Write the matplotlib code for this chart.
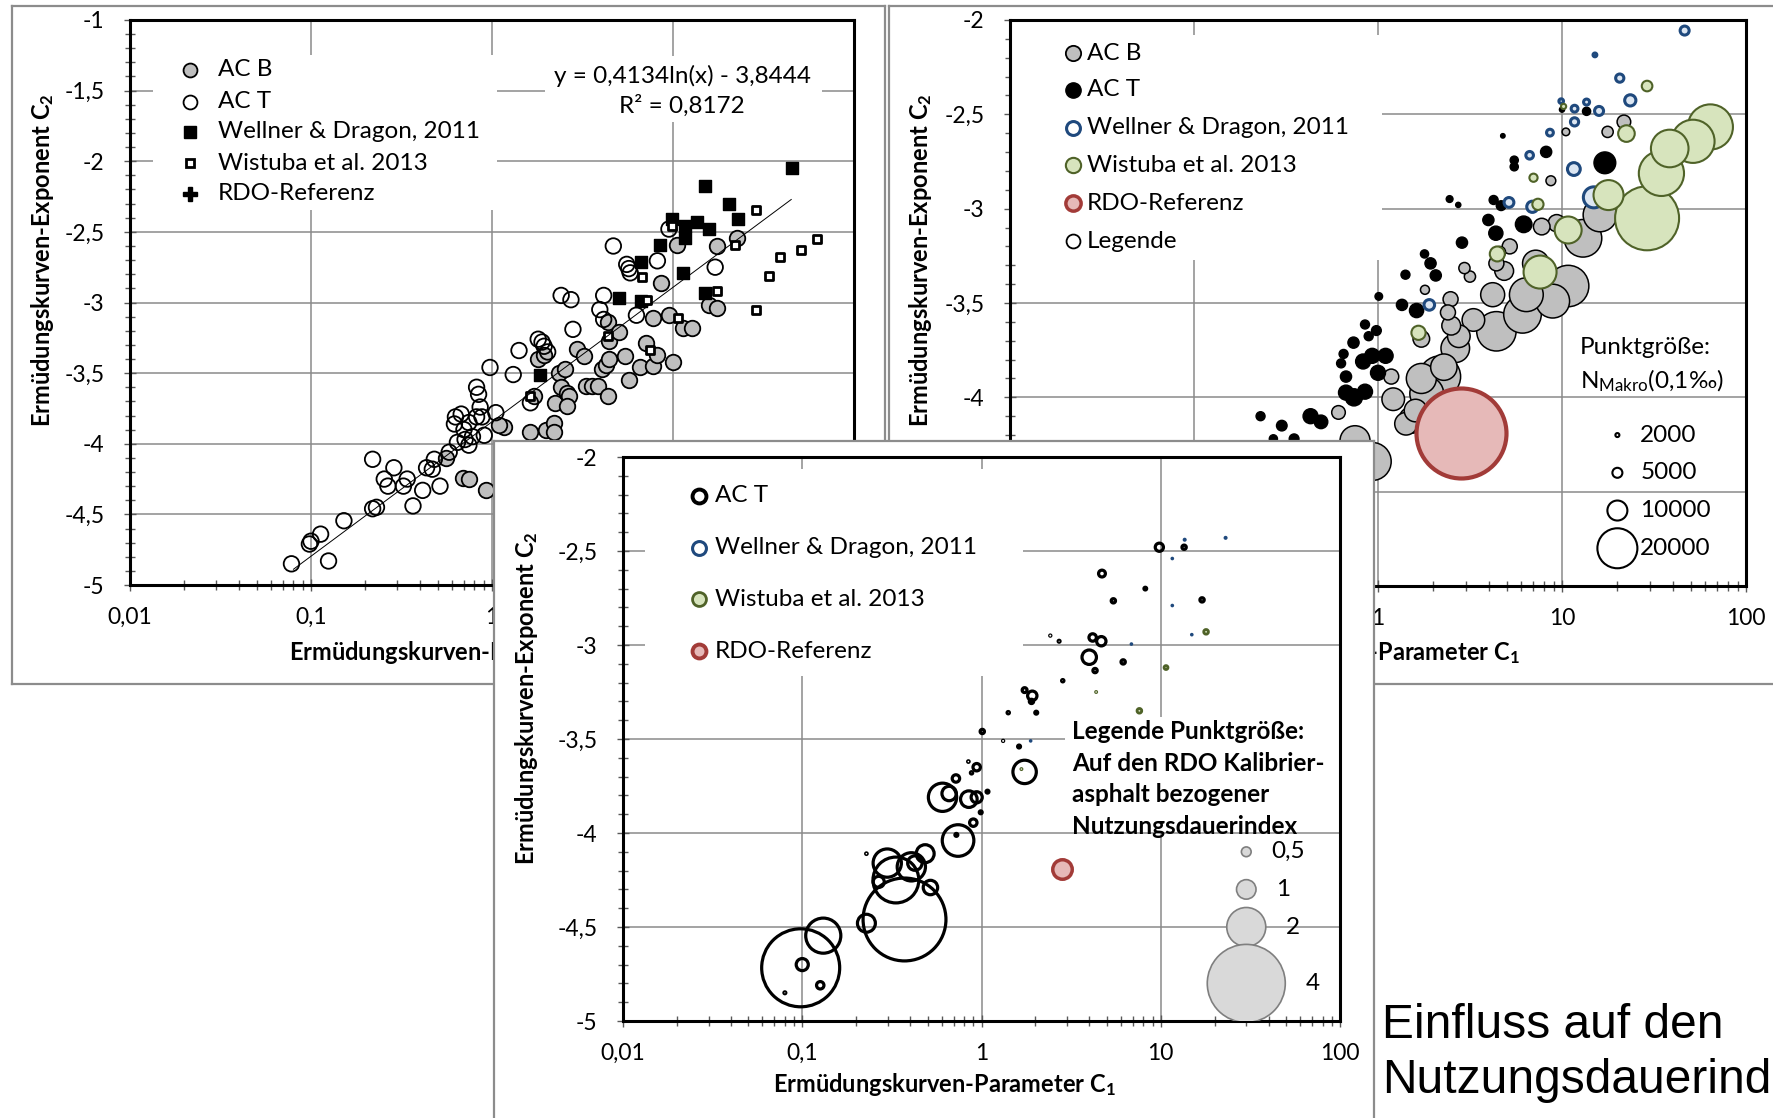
import numpy as np
import matplotlib.pyplot as plt
from matplotlib.lines import Line2D
from matplotlib.patches import Rectangle
from matplotlib.ticker import MultipleLocator, LogLocator, NullFormatter

plt.rcParams['font.family'] = ['Lato', 'DejaVu Sans']
plt.rcParams['mathtext.default'] = 'regular'

W, H = 1773, 1118
FS = 17.5      # Legenden- und Beschriftungstexte
FS_TICK = 16.5

# ---------------- Diagramm 1: alle Datensätze, Regression ----------------
p1_acb_x = [0.555, 0.69, 0.745, 0.93, 1.16, 1.63, 1.71, 1.8, 1.94, 1.98, 2.19, 2.24, 2.36, 2.54,
            2.41, 2.6, 2.66, 2.6, 2.94, 3.24, 3.3, 3.57, 3.84, 4.35, 4.05, 4.24, 4.45, 4.35, 4.45,
            5.04, 5.4, 5.7, 6.6, 7.1, 7.8, 8.2, 10.0, 7.8, 9.5, 11.3, 12.8, 8.6, 10.5, 17.6, 22.5,
            15.9, 17.6, 2.19, 1.1]
p1_acb_y = [-4.10, -4.24, -4.25, -4.33, -3.88, -3.92, -3.66, -3.40, -3.37, -3.90, -3.85, -3.71,
            -3.50, -3.47, -3.60, -3.64, -3.66, -3.73, -3.33, -3.38, -3.59, -3.59, -3.59, -3.66,
            -3.47, -3.44, -3.40, -3.14, -3.27, -3.21, -3.38, -3.55, -3.46, -3.29, -3.45, -3.37,
            -3.42, -3.11, -3.09, -3.18, -3.18, -2.86, -2.59, -2.60, -2.54, -3.02, -3.04, -3.92,
            -3.87]

p1_act_x = [0.078, 0.098, 0.10, 0.113, 0.125, 0.152, 0.219, 0.23, 0.366, 0.219, 0.287, 0.254,
            0.266, 0.324, 0.34, 0.414, 0.516, 0.435, 0.48, 0.468, 0.644, 0.71, 0.745, 0.628,
            0.676, 0.822, 0.88, 0.906, 0.745, 0.822, 0.843, 0.975, 1.05, 1.31, 1.41, 1.8, 1.89,
            1.94, 2.03, 1.63, 2.8, 2.41, 2.73, 4.14, 3.94, 4.68, 5.55, 5.7, 5.8, 8.2, 9.5, 6.28,
            17.1, 4.14, 0.7, 0.78, 0.62, 0.86, 0.58]
p1_act_y = [-4.85, -4.71, -4.69, -4.64, -4.83, -4.545, -4.46, -4.45, -4.44, -4.11, -4.17, -4.25,
            -4.30, -4.30, -4.25, -4.33, -4.30, -4.17, -4.11, -4.18, -3.99, -3.97, -4.01, -3.81,
            -3.79, -3.81, -3.81, -3.94, -3.85, -3.60, -3.65, -3.46, -3.78, -3.51, -3.34, -3.26,
            -3.28, -3.31, -3.35, -3.71, -3.19, -2.95, -2.98, -2.95, -3.05, -2.60, -2.73, -2.76,
            -2.79, -2.705, -2.48, -3.09, -2.75, -3.12, -3.90, -3.95, -3.86, -3.74, -4.06]

p1_wd_x = [45.7, 15.0, 20.3, 23.0, 9.9, 11.6, 13.6, 15.9, 11.6, 8.5, 6.66, 11.3, 5.04, 15.0, 6.66, 1.85]
p1_wd_y = [-2.045, -2.175, -2.30, -2.41, -2.41, -2.46, -2.43, -2.48, -2.54, -2.59, -2.71, -2.79,
           -2.965, -2.93, -2.99, -3.51]

p1_wi_x = [28.7, 62.8, 51.1, 39.0, 34.0, 28.7, 17.6, 21.9, 9.9, 6.7, 7.2, 10.7, 4.35, 7.45, 1.63]
p1_wi_y = [-2.345, -2.55, -2.63, -2.675, -2.81, -3.05, -2.92, -2.59, -2.46, -2.82, -2.98, -3.11,
           -3.24, -3.335, -3.66]

p1_rdo_x = [2.82]
p1_rdo_y = [-4.19]

trend_a, trend_b, trend_r2 = 0.4134, -3.8444, 0.8172
trend_range = [0.08, 45.0]

# ---------------- Diagramm 2: Punktgröße N_Makro(0,1‰) ----------------
p2_acb_x = [21.7, 17.7, 10.5, 8.7, 16.1, 7.76, 9.36, 13.0, 5.2, 4.6, 2.95, 3.16, 1.8, 4.4, 4.85,
            4.2, 6.4, 7.2, 10.8, 8.9, 6.1, 4.4, 3.3, 2.48, 2.4, 2.5, 2.75, 2.63, 2.28, 2.17, 1.72,
            1.84, 1.6, 1.53, 1.42, 1.21, 1.18, 0.61, 0.75, 0.93, 1.72]
p2_acb_y = [-2.54, -2.593, -2.593, -2.852, -3.033, -3.095, -3.077, -3.157, -3.2, -3.23, -3.315,
            -3.36, -3.43, -3.29, -3.33, -3.456, -3.456, -3.29, -3.41, -3.49, -3.56, -3.65, -3.59,
            -3.48, -3.55, -3.62, -3.676, -3.74, -3.84, -3.89, -3.9, -3.98, -4.07, -4.12, -4.14,
            -4.01, -3.89, -4.08, -4.23, -4.34, -3.69]
p2_acb_n = [6800, 5600, 3800, 4900, 16900, 8300, 8600, 18800, 7500, 5600, 5600, 5600, 4500, 7500,
            9400, 12000, 16900, 13200, 20700, 16900, 18800, 19700, 11300, 7500, 7500, 9400, 11300,
            14300, 13200, 20700, 15000, 16900, 11300, 13200, 11300, 11300, 7500, 6800, 15000,
            19000, 8300]

p2_act_x = [4.77, 5.5, 5.5, 8.2, 17.1, 13.6, 10.0, 2.45, 2.73, 4.25, 4.67, 3.98, 6.19, 4.37, 2.86,
            1.79, 1.93, 2.06, 1.41, 1.01, 1.35, 1.62, 0.85, 0.98, 0.89, 0.736, 0.65, 0.63, 0.83,
            0.93, 1.1, 1.0, 0.67, 0.67, 0.74, 0.85, 0.43, 0.49, 0.3, 0.23, 0.35, 0.27, 0.18, 0.14,
            0.11, 0.09]
p2_act_y = [-2.614, -2.743, -2.778, -2.699, -2.757, -2.484, -2.475, -2.949, -2.98, -2.954, -2.984,
            -3.06, -3.083, -3.13, -3.18, -3.24, -3.29, -3.354, -3.35, -3.465, -3.51, -3.54, -3.614,
            -3.646, -3.676, -3.71, -3.77, -3.82, -3.81, -3.78, -3.78, -3.87, -3.89, -3.975, -4.0,
            -3.97, -4.1, -4.13, -4.15, -4.1, -4.22, -4.22, -4.4, -4.5, -4.65, -4.8]
p2_act_n = [2250, 4100, 4100, 5600, 10900, 4100, 2600, 3400, 2600, 4500, 4900, 5600, 8300, 7100,
            5600, 4100, 5600, 5600, 4500, 3800, 5600, 7100, 4500, 4900, 4500, 5600, 4500, 4500,
            7500, 7500, 7500, 7500, 5600, 7500, 8600, 7500, 7500, 6800, 5300, 4500, 4900, 4100,
            5000, 5000, 4500, 4000]

p2_wd_x = [46.4, 15.1, 20.6, 23.5, 13.6, 11.7, 15.9, 9.9, 11.7, 8.6, 6.67, 11.6, 14.9, 6.9, 5.15, 1.9]
p2_wd_y = [-2.056, -2.185, -2.308, -2.426, -2.435, -2.47, -2.482, -2.43, -2.54, -2.597, -2.717,
           -2.79, -2.94, -2.99, -2.967, -3.51]
p2_wd_n = [4500, 1900, 4100, 5600, 3000, 3400, 4500, 2300, 4100, 3400, 3800, 6400, 10500, 5600,
           4900, 5300]

p2_wi_x = [29.0, 10.2, 22.4, 7.0, 7.4, 64.0, 51.5, 38.5, 34.7, 29.0, 17.9, 10.8, 7.6, 4.45, 1.66]
p2_wi_y = [-2.35, -2.458, -2.602, -2.836, -2.977, -2.567, -2.643, -2.681, -2.813, -3.051, -2.928,
           -3.113, -3.336, -3.24, -3.658]
p2_wi_n = [5300, 2600, 8300, 4100, 5600, 22600, 21600, 18800, 22600, 32000, 15000, 13500, 16500,
           7500, 7100]

p2_rdo_x = [2.82]
p2_rdo_y = [-4.187]
p2_rdo_n = [45000]

p2_key_x = [20, 20, 20, 20]
p2_key_y = [-4.2, -4.4, -4.6, -4.8]
p2_key_n = [2000, 5000, 10000, 20000]

# ---------------- Diagramm 3: Nutzungsdauerindex ----------------
p3_act_x = [0.098, 0.131, 0.372, 0.333, 0.298, 0.406, 0.485, 0.519, 0.425, 0.267, 0.228, 0.1,
            0.126, 0.08, 0.228, 0.74, 0.724, 0.9, 0.606, 0.66, 0.85, 0.94, 1.08, 0.99, 0.72, 0.845,
            0.94, 0.88, 1.01, 1.32, 1.62, 1.74, 1.41, 1.74, 1.92, 1.9, 2.02, 2.84, 3.99, 4.3, 4.17,
            4.66, 6.17, 2.42, 2.71, 5.44, 4.7, 8.2, 9.82, 13.5, 17.0]
p3_act_y = [-4.717, -4.546, -4.46, -4.25, -4.16, -4.18, -4.11, -4.29, -4.16, -4.26, -4.48, -4.70,
            -4.81, -4.85, -4.11, -4.04, -4.01, -3.945, -3.81, -3.79, -3.82, -3.81, -3.78, -3.89,
            -3.71, -3.62, -3.65, -3.68, -3.46, -3.51, -3.54, -3.675, -3.36, -3.24, -3.27, -3.30,
            -3.36, -3.19, -3.065, -3.136, -2.96, -2.98, -3.09, -2.95, -2.98, -2.765, -2.62, -2.70,
            -2.48, -2.48, -2.76]
p3_act_i = [4.0, 1.8, 4.25, 2.35, 1.45, 1.45, 0.92, 0.74, 0.74, 0.57, 0.92, 0.62, 0.38, 0.1, 0.08,
            1.62, 0.15, 0.38, 1.45, 0.74, 0.85, 0.57, 0.15, 0.15, 0.38, 0.08, 0.38, 0.12, 0.22, 0.06,
            0.15, 1.2, 0.12, 0.25, 0.48, 0.22, 0.15, 0.12, 0.74, 0.22, 0.38, 0.48, 0.22, 0.06,
            0.1, 0.22, 0.35, 0.14, 0.42, 0.22, 0.22]

p3_wd_x = [13.6, 23.0, 11.6, 11.6, 14.9, 6.86, 1.88]
p3_wd_y = [-2.44, -2.43, -2.54, -2.79, -2.945, -2.995, -3.51]
p3_wd_i = [0.1, 0.1, 0.08, 0.08, 0.08, 0.08, 0.08]

p3_wi_x = [17.9, 10.7, 4.36, 7.6, 1.67]
p3_wi_y = [-2.93, -3.12, -3.25, -3.35, -3.66]
p3_wi_i = [0.24, 0.2, 0.06, 0.24, 0.06]

p3_rdo_x = [2.82]
p3_rdo_y = [-4.19]
p3_rdo_i = [1.0]

p3_key_x = [30, 30, 30, 30]
p3_key_y = [-4.1, -4.3, -4.5, -4.8]
p3_key_i = [0.5, 1, 2, 4]
p3_key_labels = ['0,5', '1', '2', '4']

x_ticks = [0.01, 0.1, 1, 10, 100]
x_tick_labels = ['0,01', '0,1', '1', '10', '100']

GREY = '#bfbfbf'
BLUE_E, BLUE_F = '#1f497d', '#dce6f2'
GREEN_E, GREEN_F = '#4f6228', '#d7e4bd'
RED_E, RED_F = '#a23b38', '#e6b9b8'
KEY_E, KEY_F = '#7f7f7f', '#d9d9d9'

fig = plt.figure(figsize=(W / 100, H / 100), dpi=100)


def fbox(x0, y0, x1, y1):
    return [x0 / W, 1 - y1 / H, (x1 - x0) / W, (y1 - y0) / H]


def fpt(x, y):
    return x / W, 1 - y / H


def panel(frame_px, plot_px, ymin, ymax, z):
    frame = fig.add_axes(fbox(*frame_px), zorder=z)
    frame.set_xticks([])
    frame.set_yticks([])
    for s in frame.spines.values():
        s.set_color('#8c8c8c')
        s.set_linewidth(1.6)
    ax = fig.add_axes(fbox(*plot_px), zorder=z + 0.1)
    ax.set_xscale('log')
    ax.set_xlim(0.01, 100)
    ax.set_ylim(ymin, ymax)
    ax.set_xticks(x_ticks, labels=x_tick_labels)
    yt = np.round(np.arange(ymin, ymax + 0.01, 0.5), 1)
    ax.set_yticks(yt, labels=[f'{v:g}'.replace('.', ',') for v in yt])
    ax.xaxis.set_minor_locator(LogLocator(base=10, subs=np.arange(2, 10), numticks=20))
    ax.xaxis.set_minor_formatter(NullFormatter())
    ax.yaxis.set_minor_locator(MultipleLocator(0.1))
    ax.grid(True, which='major', color='#8a8a8a', lw=1.1)
    ax.set_axisbelow(True)
    for s in ax.spines.values():
        s.set_color('black')
        s.set_linewidth(2.2)
    ax.tick_params(which='both', direction='inout', color='#595959', width=1)
    ax.tick_params(which='major', length=9)
    ax.tick_params(which='minor', length=7)
    ax.tick_params(axis='y', pad=14, labelsize=FS_TICK)
    ax.tick_params(axis='x', pad=11, labelsize=FS_TICK)
    return ax


def blank(ax, x0, y0, x1, y1):
    # weiße Fläche hinter Legenden/Texten, verdeckt das Gitter
    ax.add_patch(Rectangle(fpt(x0, y1), (x1 - x0) / W, (y1 - y0) / H, transform=fig.transFigure,
                           fc='white', ec='none', zorder=1))


def key(x, y, tx, text, z, **mk):
    fig.add_artist(Line2D([x / W], [1 - y / H], transform=fig.transFigure, ls='none',
                          zorder=z, **mk))
    fig.text(*fpt(tx, y), text, ha='left', va='center', fontsize=FS, zorder=z)


def labels(z, ylab_xy, xlab_xy):
    fig.text(*fpt(*ylab_xy), 'Ermüdungskurven-Exponent C$_2$', rotation=90, ha='center',
             va='center', fontsize=17, fontweight='bold', zorder=z)
    fig.text(*fpt(*xlab_xy), 'Ermüdungskurven-Parameter C$_1$', ha='center', va='center',
             fontsize=17, fontweight='bold', zorder=z)


def bubble_pt(values, px_per_unit):
    return (np.asarray(values) * px_per_unit * 0.72) ** 2


# ---- Diagramm 1 ----
ax1 = panel((12, 6, 885, 684), (130, 20, 854, 585), -5, -1, 1)
blank(ax1, 153, 55, 497, 210)
blank(ax1, 545, 56, 822, 122)
ax1.scatter(p1_acb_x, p1_acb_y, s=125, fc=GREY, ec='black', lw=1.3, zorder=3)
ax1.scatter(p1_act_x, p1_act_y, s=125, fc='none', ec='black', lw=1.3, zorder=3)
ax1.scatter(p1_wd_x, p1_wd_y, s=85, marker='s', fc='black', ec='black', lw=1, zorder=4)
ax1.scatter(p1_wi_x, p1_wi_y, s=30, marker='s', fc='white', ec='black', lw=2, zorder=4)
ax1.scatter(p1_rdo_x, p1_rdo_y, s=110, marker='P', fc='black', ec='black', zorder=4)
tx = np.geomspace(trend_range[0], trend_range[1], 100)
ax1.plot(tx, trend_a * np.log(tx) + trend_b, color='black', lw=0.7, zorder=5)
fig.text(*fpt(682, 76), f'y = {trend_a:.4f}ln(x) - {-trend_b:.4f}'.replace('.', ','),
         ha='center', va='center', fontsize=FS, zorder=1.5)
fig.text(*fpt(682, 106), f'R² = {trend_r2:.4f}'.replace('.', ','), ha='center', va='center',
         fontsize=FS, zorder=1.5)
key(190, 70, 218, 'AC B', 1.5, marker='o', ms=10, mfc=GREY, mec='black', mew=1.3)
key(190, 102, 218, 'AC T', 1.5, marker='o', ms=10, mfc='none', mec='black', mew=1.3)
key(190, 132, 218, 'Wellner & Dragon, 2011', 1.5, marker='s', ms=8, mfc='black', mec='black')
key(190, 163, 218, 'Wistuba et al. 2013', 1.5, marker='s', ms=5.5, mfc='white', mec='black', mew=2)
key(190, 194, 218, 'RDO-Referenz', 1.5, marker='P', ms=10, mfc='black', mec='black')
labels(1.5, (43, 260), (460, 652))

# ---- Diagramm 2 ----
ax2 = panel((889, 6, 1790, 684), (1010, 20, 1746, 586), -5, -2, 3)
blank(ax2, 1010, 35, 1382, 260)
k2 = 0.002
for xs, ys, ns, fc, ec, lw in [(p2_acb_x, p2_acb_y, p2_acb_n, GREY, 'black', 1.1),
                               (p2_act_x, p2_act_y, p2_act_n, 'black', 'black', 1.0),
                               (p2_wd_x, p2_wd_y, p2_wd_n, BLUE_F, BLUE_E, 2.2),
                               (p2_wi_x, p2_wi_y, p2_wi_n, GREEN_F, GREEN_E, 1.5),
                               (p2_rdo_x, p2_rdo_y, p2_rdo_n, RED_F, RED_E, 3.0)]:
    order = np.argsort(ns)[::-1]
    ax2.scatter(np.asarray(xs)[order], np.asarray(ys)[order], s=bubble_pt(np.asarray(ns)[order], k2),
                fc=fc, ec=ec, lw=lw, zorder=3)
ax2.scatter(p2_key_x, p2_key_y, s=bubble_pt(p2_key_n, k2), fc='white', ec='black', lw=1.5, zorder=3)
for x, y, n in zip(p2_key_x, p2_key_y, p2_key_n):
    ax2.annotate(f'{n}', (x, y), xytext=(16.5, 0), textcoords='offset points', ha='left',
                 va='center', fontsize=FS, zorder=4)
fig.text(*fpt(1580, 348), 'Punktgröße:', ha='left', va='center', fontsize=FS, zorder=3.5)
fig.text(*fpt(1580, 381), 'N$_{Makro}$(0,1‰)', ha='left', va='center', fontsize=FS, zorder=3.5)
key(1073, 53, 1087, 'AC B', 3.5, marker='o', ms=11, mfc=GREY, mec='black', mew=1.3)
key(1073, 90, 1087, 'AC T', 3.5, marker='o', ms=11, mfc='black', mec='black')
key(1073, 128, 1087, 'Wellner & Dragon, 2011', 3.5, marker='o', ms=10, mfc='white', mec=BLUE_E, mew=2.2)
key(1073, 165, 1087, 'Wistuba et al. 2013', 3.5, marker='o', ms=11, mfc=GREEN_F, mec=GREEN_E, mew=1.5)
key(1073, 203, 1087, 'RDO-Referenz', 3.5, marker='o', ms=11, mfc=RED_F, mec=RED_E, mew=2.5)
key(1073, 241, 1087, 'Legende', 3.5, marker='o', ms=10, mfc='white', mec='black', mew=1.3)
labels(3.5, (921, 260), (1348, 652))

# ---- Diagramm 3 ----
ax3 = panel((494, 441, 1374, 1140), (623, 457, 1340, 1021), -5, -2, 5)
blank(ax3, 645, 469, 1023, 676)
blank(ax3, 1065, 717, 1340, 831)
k3 = 19.5
ax3.scatter(p3_act_x, p3_act_y, s=bubble_pt(p3_act_i, k3), fc='none', ec='black', lw=2.3, zorder=3)
ax3.scatter(p3_wd_x, p3_wd_y, s=bubble_pt(p3_wd_i, k3), fc=BLUE_E, ec=BLUE_E, lw=1.5, zorder=3)
ax3.scatter(p3_wi_x, p3_wi_y, s=bubble_pt(p3_wi_i, k3), fc=GREEN_F, ec=GREEN_E, lw=2.0, zorder=3)
ax3.scatter(p3_rdo_x, p3_rdo_y, s=bubble_pt(p3_rdo_i, k3), fc=RED_F, ec=RED_E, lw=2.5, zorder=3)
ax3.scatter(p3_key_x, p3_key_y, s=bubble_pt(p3_key_i, k3), fc=KEY_F, ec=KEY_E, lw=1.2, zorder=3)
for x, y, v, lab in zip(p3_key_x, p3_key_y, p3_key_i, p3_key_labels):
    ax3.annotate(lab, (x, y), xytext=((v * k3 / 2 + 20) * 0.72, 0), textcoords='offset points',
                 ha='left', va='center', fontsize=FS, zorder=4)
for i, line in enumerate(['Legende Punktgröße:', 'Auf den RDO Kalibrier-', 'asphalt bezogener',
                          'Nutzungsdauerindex']):
    fig.text(*fpt(1072, 731.5 + i * 31.7), line, ha='left', va='center', fontsize=FS,
             fontweight='bold', zorder=5.5)
key(699, 496, 715, 'AC T', 5.5, marker='o', ms=10, mfc='white', mec='black', mew=2.8)
key(699, 548, 715, 'Wellner & Dragon, 2011', 5.5, marker='o', ms=10, mfc='white', mec=BLUE_E, mew=2.2)
key(699, 599, 715, 'Wistuba et al. 2013', 5.5, marker='o', ms=10, mfc=GREEN_F, mec=GREEN_E, mew=2)
key(699, 651, 715, 'RDO-Referenz', 5.5, marker='o', ms=10, mfc=RED_F, mec=RED_E, mew=2.8)
labels(5.5, (526, 698), (944, 1085))

fig.text(*fpt(1382, 1038), 'Einfluss auf den', ha='left', va='baseline', fontsize=34.5,
         family='Liberation Sans', zorder=7)
fig.text(*fpt(1382, 1093), 'Nutzungsdauerindex', ha='left', va='baseline', fontsize=34.5,
         family='Liberation Sans', zorder=7)

fig.savefig('out.png', dpi=100)
